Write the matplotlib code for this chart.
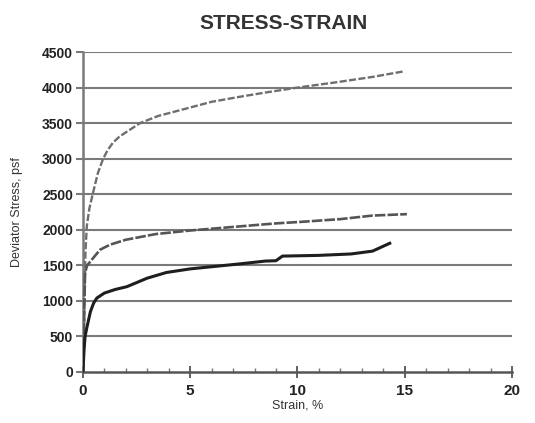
import matplotlib.pyplot as plt
import numpy as np
from matplotlib.ticker import MultipleLocator

# Strain (%) vs deviator stress (psf)
strain_a = [0, 0.05, 0.08, 0.12, 0.18, 0.3, 0.47, 0.7, 0.93, 1.15, 1.4, 1.7,
            2.05, 2.66, 3.5, 5, 6, 7.3, 8.5, 10, 11.7, 13.5, 14.9]
stress_a = [0, 500, 1200, 1700, 2050, 2300, 2520, 2800, 2990, 3120, 3225, 3310,
            3380, 3500, 3600, 3720, 3800, 3870, 3930, 4000, 4070, 4150, 4225]

strain_b = [0, 0.04, 0.07, 0.1, 0.2, 0.47, 0.8, 1.26, 2.0, 3.4, 5, 7, 9,
            10.1, 12, 13.5, 15.1]
stress_b = [0, 500, 1000, 1400, 1500, 1600, 1720, 1790, 1860, 1940, 1990, 2040,
            2090, 2110, 2150, 2200, 2220]

strain_c = [0, 0.05, 0.1, 0.19, 0.35, 0.5, 0.65, 1.0, 1.5, 2.05, 3.0, 3.9, 5,
            7.3, 8.5, 9.0, 9.3, 11, 12.5, 13.5, 14.3]
stress_c = [0, 300, 500, 634, 850, 970, 1040, 1110, 1160, 1200, 1320, 1400,
            1450, 1520, 1560, 1565, 1630, 1640, 1660, 1700, 1810]

plt.rcParams['font.family'] = ['Liberation Sans', 'DejaVu Sans']

fig = plt.figure(figsize=(5.35, 4.23), dpi=100)
ax = fig.add_axes([0.155, 0.1206, 0.802, 0.7564])

grid_c = '#7a7a7a'
for y in range(500, 4501, 500):
    ax.axhline(y, color=grid_c, lw=1.5, zorder=1)

ax.plot(strain_a, stress_a, color='#6e6e6e', lw=1.7, ls=(0, (3, 1)), zorder=3)
ax.plot(strain_b, stress_b, color='#555555', lw=1.9, ls=(0, (4, 0.8)), zorder=3)
ax.plot(strain_c, stress_c, color='#1e1e1e', lw=2.2, zorder=3)

ax.set_xlim(0, 20)
ax.set_ylim(0, 4500)
ax.xaxis.set_major_locator(MultipleLocator(5))
ax.xaxis.set_minor_locator(MultipleLocator(1))
ax.yaxis.set_major_locator(MultipleLocator(500))

for s in ['top', 'right']:
    ax.spines[s].set_visible(False)
ax.spines['left'].set_color(grid_c)
ax.spines['left'].set_linewidth(1.8)
ax.spines['bottom'].set_color('#555555')
ax.spines['bottom'].set_linewidth(1.8)

ax.tick_params(axis='x', which='major', direction='inout', length=8, width=1.3,
               colors='#555555', labelcolor='#222222', labelsize=11, pad=5)
ax.tick_params(axis='x', which='minor', direction='in', length=3, width=1,
               colors='#777777')
ax.tick_params(axis='y', direction='out', length=5, width=1.5, colors=grid_c,
               labelcolor='#222222', labelsize=10, pad=2)

for lab in ax.get_xticklabels() + ax.get_yticklabels():
    lab.set_fontweight('bold')

ax.set_xlabel("Strain, %", fontsize=9, color='#333333', labelpad=1)
ax.set_ylabel("Deviator Stress, psf", fontsize=9, color='#333333', labelpad=14)
fig.text(0.53, 0.945, "STRESS-STRAIN", ha='center', va='center',
         fontsize=15, fontweight='bold', color='#333333')

fig.savefig("out.png", dpi=100)
